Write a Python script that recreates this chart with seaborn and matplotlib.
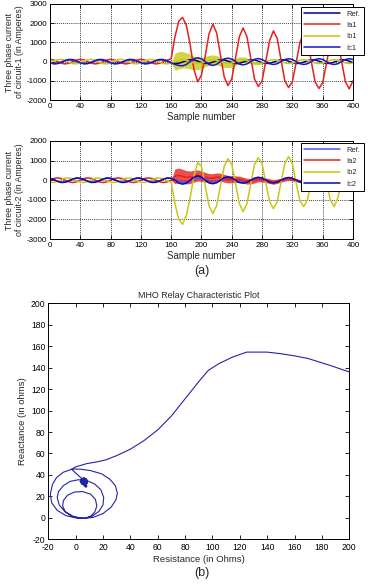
import numpy as np
import matplotlib
matplotlib.use("Agg")
import matplotlib.pyplot as plt
import seaborn as sns

# sample number (every 5th sample) and the post-fault part
samples = np.arange(0, 401, 5)
post = np.arange(160, 401, 5)

# circuit-1 currents (Amperes)
ref1 = [-50, -97, -87, -26, 50, 97, 87, 26, -50, -97, -87, -26, 50, 97, 87, 26,
        -50, -97, -87, -26, 50, 97, 87, 26, -50, -97, -87, -26, 50, 97, 87, 26,
        -50, -97, -87, -26, 50, 97, 87, 26, -50, -97, -87, -26, 50, 97, 87, 26,
        -50, -97, -87, -26, 50, 97, 87, 26, -50, -97, -87, -26, 50, 97, 87, 26,
        -50, -97, -87, -26, 50, 97, 87, 26, -50, -97, -87, -26, 50, 97, 87, 26,
        -50]
ia1 = [120, 85, 0, -85, -120, -85, 0, 85, 120, 85, 0, -85, -120, -85, 0, 85,
       120, 85, 0, -85, -120, -85, 0, 85, 120, 85, 0, -85, -120, -85, 0, 85,
       150, 1300, 2100, 2300, 1900, 900, -400, -1050, -700,
       300, 1450, 1950, 1500, 350, -800, -1250, -900,
       200, 1300, 1750, 1300, 200, -900, -1300, -1000,
       50, 1100, 1600, 1200, 100, -1000, -1350, -1050,
       -50, 1000, 1500, 1100, 0, -1050, -1400, -1100,
       -100, 950, 1450, 1050, 0, -1050, -1420, -1000]
ib1 = [-60, 31, 104, 116, 60, -31, -104, -116, -60, 31, 104, 116, 60, -31, -104, -116,
       -60, 31, 104, 116, 60, -31, -104, -116, -60, 31, 104, 116, 60, -31, -104, -116,
       -70, 0, 70, 100, 70, 0, -70, -100, -70,
       0, 70, 100, 70, 0, -70, -100, -70,
       0, 70, 100, 70, 0, -70, -100, -70,
       0, 70, 100, 70, 0, -70, -100, -70,
       0, 70, 100, 70, 0, -70, -100, -70,
       0, 70, 100, 70, 0, -70, -100, -70]
ic1 = [-60, -116, -104, -31, 60, 116, 104, 31, -60, -116, -104, -31, 60, 116, 104, 31,
       -60, -116, -104, -31, 60, 116, 104, 31, -60, -116, -104, -31, 60, 116, 104, 31,
       -60, -150, -200, -220, -150, 0, 150, 200, 150,
       0, -150, -200, -140, 0, 140, 180, 130,
       0, -130, -170, -120, 0, 120, 160, 110,
       0, -110, -150, -110, 0, 110, 150, 110,
       0, -110, -150, -110, 0, 110, 150, 110,
       0, -110, -150, -110, 0, 110, 150, 110]
# half width of the fast oscillation riding on Ib1 after the fault
ib1_ripple = [0, 450, 450, 420, 400, 380, 350, 320, 290,
              270, 260, 250, 240, 240, 230, 220, 210,
              190, 170, 150, 130, 110, 90, 70, 50,
              30, 0, 0, 0, 0, 0, 0, 0,
              0, 0, 0, 0, 0, 0, 0, 0,
              0, 0, 0, 0, 0, 0, 0, 0]

# circuit-2 currents (Amperes)
ref2 = [87, 26, -50, -97, -87, -26, 50, 97, 87, 26, -50, -97, -87, -26, 50, 97,
        87, 26, -50, -97, -87, -26, 50, 97, 87, 26, -50, -97, -87, -26, 50, 97,
        87, 26, -50, -97, -87, -26, 50, 97, 87, 26, -50, -97, -87, -26, 50, 97,
        87, 26, -50, -97, -87, -26, 50, 97, 87, 26, -50, -97, -87, -26, 50, 97,
        87, 26, -50, -97, -87, -26, 50, 97, 87, 26, -50, -97, -87, -26, 50, 97,
        87]
ia2 = [0, 85, 120, 85, 0, -85, -120, -85, 0, 85, 120, 85, 0, -85, -120, -85,
       0, 85, 120, 85, 0, -85, -120, -85, 0, 85, 120, 85, 0, -85, -120, -85,
       0, 200, 250, 200, 150, 150, 200, 250, 200,
       150, 100, 100, 150, 150, 100, 50, 50,
       50, 50, 0, -50, -50, 0, 50, 50,
       0, -50, -100, -50, 0, 50, 100, 50,
       0, -50, -100, -50, 0, 50, 100, 50,
       0, -50, -100, -50, 0, 50, 100, 50]
ib2 = [-104, -116, -60, 31, 104, 116, 60, -31, -104, -116, -60, 31, 104, 116, 60, -31,
       -104, -116, -60, 31, 104, 116, 60, -31, -104, -116, -60, 31, 104, 116, 60, -31,
       -100, -1200, -2000, -2250, -1800, -900, 200, 900, 700,
       -300, -1300, -1700, -1300, -300, 700, 1100, 800,
       -200, -1200, -1600, -1200, -200, 800, 1150, 850,
       -150, -1100, -1450, -1100, -100, 850, 1200, 850,
       -150, -1050, -1350, -1000, -50, 850, 1200, 850,
       -100, -1000, -1350, -900, 0, 900, 1200, 850]
ic2 = [104, 31, -60, -116, -104, -31, 60, 116, 104, 31, -60, -116, -104, -31, 60, 116,
       104, 31, -60, -116, -104, -31, 60, 116, 104, 31, -60, -116, -104, -31, 60, 116,
       100, 0, -150, -200, -150, 0, 150, 220, 150,
       0, -140, -180, -130, 0, 130, 170, 120,
       0, -120, -150, -110, 0, 110, 150, 110,
       0, -110, -140, -100, 0, 100, 140, 100,
       0, -100, -140, -100, 0, 100, 140, 100,
       0, -100, -140, -100, 0, 100, 140, 100]
ia2_ripple = [0, 380, 370, 360, 340, 320, 300, 280, 260,
              250, 240, 230, 220, 210, 200, 190, 180,
              170, 160, 150, 150, 140, 140, 130, 130,
              120, 120, 110, 110, 100, 100, 90, 90,
              80, 70, 60, 50, 40, 30, 20, 10,
              0, 0, 0, 0, 0, 0, 0, 0]

# MHO relay trajectory (R, X in ohms), traced along the plotted path
mho_r = [7.5, 6, 4.5, 6.5, 8, 5, 4.5, 7.5, 8, 5.5, 6, 4, 5,
         -3, -9, -14, -17, -18.5, -17.5, -13.5, -7, 0, 6,
         12, 17, 20, 20.5, 18.5, 14, 8, 2, -4, -9, -12.5, -13.5, -12, -8, -2, 4, 7,
         11, 14, 15.5, 14.5, 11, 5, -1, -6, -9, -9.5, -7.5, -3, 2, 7,
         13, 20, 26, 29.5, 30.5, 29, 25, 19, 11, 4, -1, -3,
         0, 4, 8, 15, 22, 30, 40, 50, 60, 70, 80, 90, 97, 105, 115, 125,
         140, 150, 160, 170, 185, 200]
mho_x = [29.5, 31.5, 33, 36, 34, 32, 35.5, 35.5, 32.5, 34, 36.5, 34, 36,
         45.3, 42.5, 37.5, 31, 22, 14, 7, 2, 0, -0.5,
         1.5, 6, 12, 19, 26, 31.5, 34.8, 35.5, 34, 30, 24.5, 19, 12, 6, 1.5, -0.3, -0.5,
         1.5, 5.5, 11, 17, 22, 24.5, 24, 21, 16, 11, 5.5, 1.5, -0.3, -0.5,
         0.5, 4, 10, 17, 23, 30, 36, 41, 44, 45.3, 45.5, 45.3,
         47.5, 49, 50.5, 52, 54, 58, 64, 72, 82, 95, 111, 127, 137.5, 144, 150, 154.5,
         154.5, 153, 151, 148.5, 142.5, 136]

RED = "#e82020"
YEL = "#c8c818"
BLUE = "#1818c8"

sns.set_style("white")
plt.rcParams["font.family"] = ["Liberation Sans", "DejaVu Sans"]
plt.rcParams.update({
    "axes.unicode_minus": False,
    "xtick.direction": "in", "ytick.direction": "in",
    "xtick.top": True, "ytick.right": True,
    "xtick.bottom": True, "ytick.left": True,
    "xtick.major.size": 3, "ytick.major.size": 3,
    "xtick.major.width": 0.6, "ytick.major.width": 0.6,
    "xtick.major.pad": 2.5, "ytick.major.pad": 2,
    "axes.edgecolor": "black", "axes.linewidth": 0.7,
    "xtick.color": "black", "ytick.color": "black",
})

fig = plt.figure(figsize=(3.7, 5.87), dpi=100)
ax1 = fig.add_axes([0.1351, 0.8296, 0.8189, 0.1636])
ax2 = fig.add_axes([0.1351, 0.5928, 0.8189, 0.1670])
ax3 = fig.add_axes([0.1305, 0.0813, 0.8135, 0.4020])


def current_panel(ax, ref, ia, ib, ic, ripple_on, ripple, names, colors,
                  ylim, yticks, ylab, leg_top):
    s = {"Ref": ref, "a": ia, "b": ib, "c": ic}
    for key, name, col in zip(["Ref", "a", "b", "c"], names, colors):
        sns.lineplot(x=samples, y=s[key], color=col, linewidth=1.1,
                     label=name, ax=ax)
        if key == ripple_on:
            mid = np.array(s[key][32:])
            rp = np.array(ripple)
            ax.fill_between(post, mid - rp, mid + rp, color=col, lw=0,
                            alpha=0.8)
    ax.set_xlim(0, 400)
    ax.set_ylim(*ylim)
    ax.set_xticks(range(0, 401, 40))
    ax.set_yticks(yticks)
    ax.tick_params(labelsize=5.8)
    ax.grid(True, linestyle=(0, (1.5, 1.5)), color="black", linewidth=0.5)
    ax.set_xlabel("Sample number", fontsize=7, labelpad=1)
    ax.set_ylabel(ylab, fontsize=6.3, labelpad=2, linespacing=1.1)
    leg = ax.legend(loc="upper left", bbox_to_anchor=(0.8135, leg_top),
                    bbox_transform=fig.transFigure, fontsize=5.4,
                    handlelength=4.7, handletextpad=0.9, labelspacing=0.55,
                    borderpad=0.45, borderaxespad=0, fancybox=False,
                    framealpha=1, edgecolor="black")
    leg.get_frame().set_linewidth(0.7)


current_panel(ax1, ref1, ia1, ib1, ic1, "b", ib1_ripple,
              ["Ref.", "Ia1", "Ib1", "Ic1"], ["#000080", RED, YEL, BLUE],
              (-2000, 3000), range(-2000, 3001, 1000),
              "Three phase current\nof circuit-1 (in Amperes)", 0.988)
current_panel(ax2, ref2, ia2, ib2, ic2, "a", ia2_ripple,
              ["Ref.", "Ia2", "Ib2", "Ic2"], ["#5050f0", RED, YEL, "#0808b0"],
              (-3000, 2000), range(-3000, 2001, 1000),
              "Three phase current\nof circuit-2 (in Amperes)", 0.7564)
fig.text(0.545, 1 - 271 / 587, "(a)", ha="center", va="center", fontsize=9)

# MHO characteristic
sns.lineplot(x=mho_r, y=mho_x, sort=False, color="#2424a8", linewidth=0.8,
             ax=ax3, estimator=None)
# dense scribble where the trajectory settles
sns.lineplot(x=mho_r[:13], y=mho_x[:13], sort=False, color="#2424a8",
             linewidth=2.2, ax=ax3, estimator=None)
ax3.set_xlim(-20, 200)
ax3.set_ylim(-20, 200)
ax3.set_xticks(range(-20, 201, 20))
ax3.set_yticks(range(-20, 201, 20))
ax3.tick_params(labelsize=6.2)
ax3.set_title("MHO Relay Characteristic Plot", fontsize=6.4, pad=4)
ax3.set_xlabel("Resistance (in Ohms)", fontsize=6.8, labelpad=2)
ax3.set_ylabel("Reactance (in ohms)", fontsize=6.8, labelpad=3)
fig.text(0.545, 1 - 573 / 587, "(b)", ha="center", va="center", fontsize=9)

fig.savefig("out.png", dpi=100)
